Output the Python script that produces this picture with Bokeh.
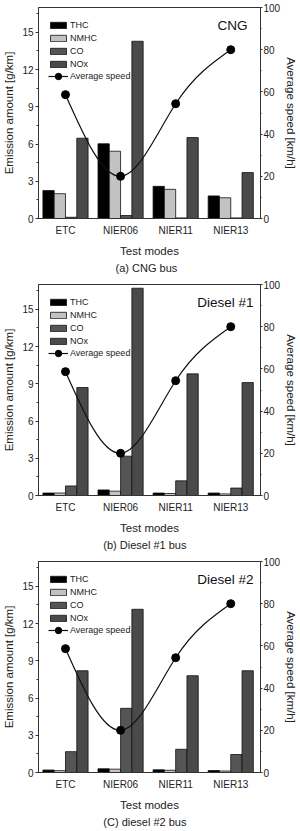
import numpy as np
from bokeh.plotting import figure
from bokeh.models import (ColumnDataSource, Range1d, LinearAxis, FixedTicker,
                          SingleIntervalTicker, Legend, LegendItem, Label, Title)
from bokeh.transform import dodge
from bokeh.layouts import column
from bokeh.embed import file_html
from bokeh.resources import INLINE

# ---- data -------------------------------------------------------------
test_modes = ["ETC", "NIER06", "NIER11", "NIER13"]
species = ["THC", "NMHC", "CO", "NOx"]

avg_speed_kmh = [58.7, 20.0, 54.4, 80.0]

cng_thc = [2.25, 6.02, 2.59, 1.82]
cng_nmhc = [2.0, 5.42, 2.35, 1.67]
cng_co = [0.1, 0.24, 0.05, 0.05]
cng_nox = [6.47, 14.28, 6.52, 3.7]

d1_thc = [0.2, 0.45, 0.2, 0.2]
d1_nmhc = [0.2, 0.35, 0.16, 0.13]
d1_co = [0.77, 3.17, 1.18, 0.6]
d1_nox = [8.7, 16.7, 9.8, 9.1]

d2_thc = [0.2, 0.3, 0.22, 0.16]
d2_nmhc = [0.15, 0.27, 0.18, 0.12]
d2_co = [1.68, 5.17, 1.87, 1.45]
d2_nox = [8.2, 13.15, 7.8, 8.2]

bar_colors = ["#000000", "#c2c2c2", "#555555", "#4a4a4a"]
FONT = "Liberation Sans"
INK = "#333333"


def spline_slopes(y):
    """End slopes of a natural cubic spline through equally spaced points."""
    y = np.asarray(y, dtype=float)
    n = len(y)
    A = np.zeros((n, n))
    b = np.zeros(n)
    A[0, 0], A[0, 1], b[0] = 2, 1, 3 * (y[1] - y[0])
    A[-1, -2], A[-1, -1], b[-1] = 1, 2, 3 * (y[-1] - y[-2])
    for i in range(1, n - 1):
        A[i, i - 1:i + 2] = [1, 4, 1]
        b[i] = 3 * (y[i + 1] - y[i - 1])
    return np.linalg.solve(A, b)


def style_text_axis(ax, tick_size="10px", label_size="11.5px"):
    ax.major_label_text_font = FONT
    ax.major_label_text_font_size = tick_size
    ax.major_label_text_color = "#222222"
    ax.axis_label_text_font = FONT
    ax.axis_label_text_font_size = label_size
    ax.axis_label_text_font_style = "normal"
    ax.axis_label_text_color = "#222222"
    ax.axis_line_color = INK
    ax.major_tick_line_color = INK
    ax.minor_tick_line_color = INK


def make_panel(tag, tag_inset, caption, thc, nmhc, co, nox):
    pos = list(range(len(test_modes)))
    src = ColumnDataSource(dict(pos=pos, THC=thc, NMHC=nmhc, CO=co, NOx=nox,
                                speed=avg_speed_kmh))

    p = figure(width=300, height=277,
               x_range=Range1d(-0.49, 3.54), y_range=Range1d(0, 17),
               output_backend="svg", toolbar_location=None,
               min_border_left=32, min_border_right=32,
               min_border_top=7, min_border_bottom=59,
               x_axis_label="Test modes", y_axis_label="Emission amount [g/km]")
    p.extra_y_ranges = {"speed": Range1d(0, 100)}
    p.grid.visible = False
    p.outline_line_color = INK
    p.background_fill_color = "white"

    # x axis: category names at group centres
    xa = p.xaxis[0]
    xa.ticker = FixedTicker(ticks=pos)
    xa.major_label_overrides = {i: m for i, m in enumerate(test_modes)}
    style_text_axis(xa)
    xa.major_tick_out = 0
    xa.major_tick_in = 0
    xa.minor_tick_out = 0
    xa.minor_tick_in = 0
    xa.major_label_standoff = 6
    xa.axis_label_standoff = 6

    # left axis: emissions
    ya = p.yaxis[0]
    ya.ticker = SingleIntervalTicker(interval=3, num_minor_ticks=2)
    style_text_axis(ya)
    ya.major_tick_out = 3
    ya.major_tick_in = 0
    ya.minor_tick_out = 2
    ya.minor_tick_in = 0
    ya.major_label_standoff = 2
    ya.axis_label_standoff = 4

    # right axis: average speed
    ra = LinearAxis(y_range_name="speed", axis_label="Average speed [km/h]",
                    ticker=SingleIntervalTicker(interval=20, num_minor_ticks=2))
    style_text_axis(ra)
    ra.major_tick_out = 2
    ra.major_tick_in = 0
    ra.minor_tick_out = 1
    ra.minor_tick_in = 0
    ra.major_label_standoff = 1
    ra.axis_label_standoff = 2
    p.add_layout(ra, "right")

    # grouped bars
    bw = 0.205
    bar_renderers = []
    for k, (name, color) in enumerate(zip(species, bar_colors)):
        r = p.vbar(x=dodge("pos", (k - 1.5) * bw, range=p.x_range), top=name,
                   width=bw, source=src, fill_color=color,
                   line_color="#111111", line_width=0.8)
        bar_renderers.append(r)

    # smooth speed curve through the cycle averages (cubic Bezier pieces)
    xs = np.asarray(pos, dtype=float)
    ys = np.asarray(avg_speed_kmh, dtype=float)
    s = spline_slopes(ys)
    h = np.diff(xs)
    curve = ColumnDataSource(dict(
        x0=xs[:-1], y0=ys[:-1], x1=xs[1:], y1=ys[1:],
        cx0=xs[:-1] + h / 3, cy0=ys[:-1] + s[:-1] * h / 3,
        cx1=xs[1:] - h / 3, cy1=ys[1:] - s[1:] * h / 3))
    curve_r = p.bezier(x0="x0", y0="y0", x1="x1", y1="y1", cx0="cx0", cy0="cy0",
                       cx1="cx1", cy1="cy1", source=curve, y_range_name="speed",
                       line_color="#111111", line_width=1.2)
    markers = p.scatter("pos", "speed", source=src, y_range_name="speed",
                        size=8, color="#000000")

    common = dict(orientation="vertical", glyph_width=20, label_standoff=2,
                  padding=0, margin=0, border_line_alpha=0,
                  background_fill_alpha=0, label_text_font=FONT,
                  label_text_font_size="9px", label_text_color="#222222")
    leg_bars = Legend(items=[LegendItem(label=n, renderers=[r])
                             for n, r in zip(species, bar_renderers)],
                      location=(10, 149), glyph_height=8, label_height=8,
                      spacing=3, **common)
    leg_speed = Legend(items=[LegendItem(label="Average speed",
                                         renderers=[curve_r, markers])],
                       location=(10, 134), glyph_height=16, label_height=16,
                       spacing=0, **common)
    p.add_layout(leg_bars)
    p.add_layout(leg_speed)

    p.add_layout(Label(x=p.x_range.end, y=p.y_range.end,
                       x_offset=-tag_inset, y_offset=-10,
                       text=tag, text_align="right", text_baseline="top",
                       text_font=FONT, text_font_size="13.5px",
                       text_color="#111111"))

    p.add_layout(Title(text=caption, align="center", text_font=FONT,
                       text_font_size="11px", text_font_style="normal",
                       text_color="#222222", standoff=0), "below")
    return p


p1 = make_panel("CNG", 13, "(a)  CNG  bus", cng_thc, cng_nmhc, cng_co, cng_nox)
p2 = make_panel("Diesel #1", 7, "(b)  Diesel  #1  bus", d1_thc, d1_nmhc, d1_co, d1_nox)
p3 = make_panel("Diesel #2", 7, "(C)  diesel  #2  bus", d2_thc, d2_nmhc, d2_co, d2_nox)

layout = column(p1, p2, p3, spacing=0)
open("out.html", "w").write(file_html(layout, INLINE))
